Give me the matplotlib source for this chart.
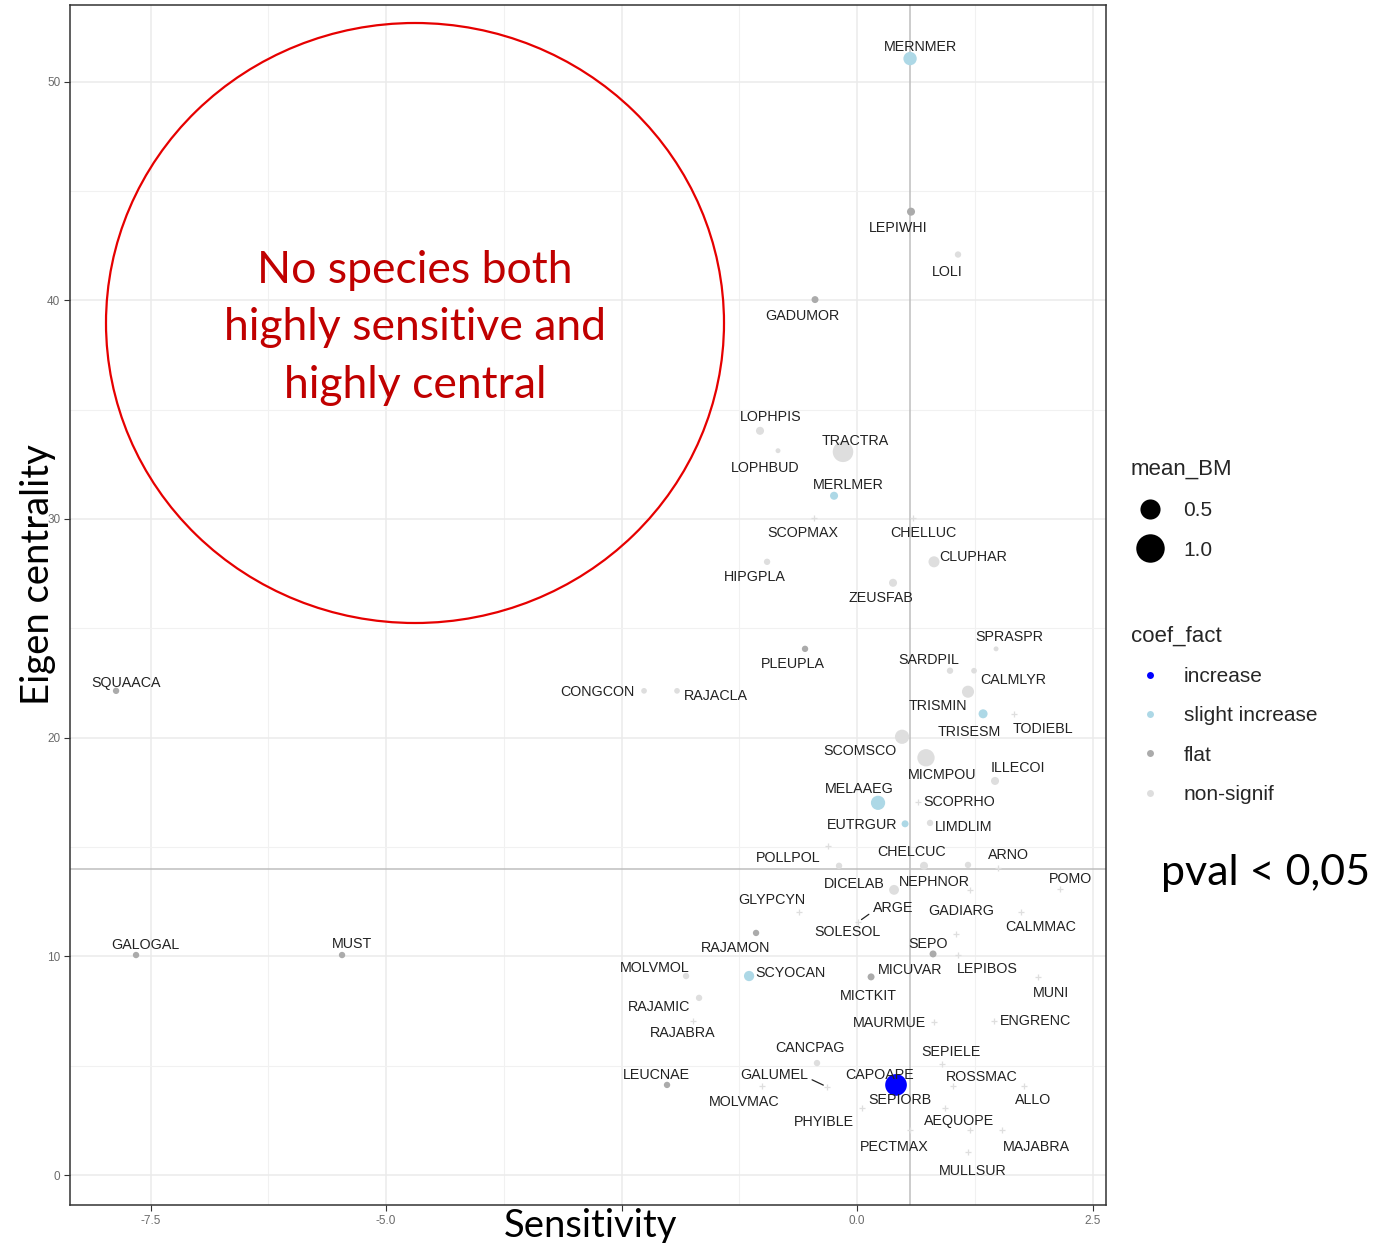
import numpy as np
import pandas as pd
import matplotlib
matplotlib.use('Agg')
import matplotlib.pyplot as plt
from matplotlib.lines import Line2D
from matplotlib.patches import Ellipse
from matplotlib.ticker import MultipleLocator


species = [
    'MERNMER', 'LEPIWHI', 'LOLI', 'GADUMOR', 'LOPHPIS', 'LOPHBUD', 'TRACTRA',
    'MERLMER', 'SCOPMAX', 'CHELLUC', 'HIPGPLA', 'CLUPHAR', 'ZEUSFAB', 'SPRASPR',
    'PLEUPLA', 'SARDPIL', 'CALMLYR', 'TRISMIN', 'TRISESM', 'TODIEBL', 'SCOMSCO',
    'MICMPOU', 'ILLECOI', 'MELAAEG', 'SCOPRHO', 'EUTRGUR', 'LIMDLIM', 'POLLPOL',
    'CHELCUC', 'ARNO', 'DICELAB', 'NEPHNOR', 'POMO', 'GLYPCYN', 'ARGE', 'GADIARG',
    'CALMMAC', 'SOLESOL', 'SEPO', 'RAJAMON', 'MOLVMOL', 'SCYOCAN', 'MICUVAR',
    'LEPIBOS', 'MICTKIT', 'MUNI', 'RAJAMIC', 'RAJABRA', 'MAURMUE', 'ENGRENC',
    'CANCPAG', 'SEPIELE', 'LEUCNAE', 'GALUMEL', 'CAPOAPE', 'ROSSMAC', 'MOLVMAC',
    'SEPIORB', 'ALLO', 'PHYIBLE', 'AEQUOPE', 'PECTMAX', 'MAJABRA', 'MULLSUR',
    'SQUAACA', 'CONGCON', 'RAJACLA', 'GALOGAL', 'MUST',
]

sensitivity = [
    0.563, 0.573, 1.072, -0.446, -1.030, -0.839, -0.149,
    -0.244, -0.456, 0.594, -0.955, 0.817, 0.382, 1.476,
    -0.552, 0.987, 1.242, 1.178, 1.338, 1.667, 0.478,
    0.732, 1.465, 0.223, 0.648, 0.510, 0.775, -0.308,
    0.711, 1.497, -0.191, 1.178, 2.155, -0.616, 0.011, 1.200,
    1.741, 0.393, 0.807, -1.072, -1.815, -1.146, 0.149,
    1.072, 1.051, 1.921, -1.677, -1.741, 0.817, 1.454,
    -0.425, 0.902, -2.017, -0.318, 0.414, 1.019, -1.008,
    1.200, 1.773, 0.053, 0.934, 0.563, 1.539, 1.178,
    -7.866, -2.261, -1.911, -7.654, -5.467,
]

eigen_centrality = [
    51.05, 44.05, 42.09, 40.03, 34.03, 33.12, 33.07,
    31.06, 30.05, 30.05, 28.04, 28.04, 27.08, 24.06,
    24.06, 23.06, 23.06, 22.10, 21.09, 21.09, 20.04,
    19.08, 18.02, 17.02, 17.06, 16.06, 16.10, 15.05,
    14.14, 14.04, 14.14, 14.18, 13.08, 12.03, 11.57, 13.04,
    12.03, 13.04, 10.11, 11.07, 9.10, 9.10, 9.06,
    10.06, 11.02, 9.06, 8.10, 7.04, 7.00, 7.04,
    5.12, 5.08, 4.12, 4.03, 4.12, 4.07, 4.07,
    2.06, 4.07, 3.06, 3.06, 2.06, 2.06, 1.05,
    22.14, 22.14, 22.14, 10.06, 10.06,
]

mean_bm = [
    0.22, 0.08, 0.05, 0.06, 0.08, 0.03, 0.52,
    0.08, 0.01, 0.01, 0.05, 0.15, 0.08, 0.03,
    0.05, 0.05, 0.04, 0.18, 0.10, 0.01, 0.25,
    0.37, 0.08, 0.25, 0.01, 0.06, 0.05, 0.01,
    0.08, 0.01, 0.05, 0.05, 0.01, 0.01, 0.01, 0.01,
    0.01, 0.12, 0.06, 0.05, 0.05, 0.13, 0.06,
    0.01, 0.01, 0.01, 0.05, 0.01, 0.01, 0.01,
    0.05, 0.01, 0.05, 0.01, 0.58, 0.01, 0.01,
    0.01, 0.01, 0.01, 0.01, 0.01, 0.01, 0.01,
    0.05, 0.04, 0.04, 0.05, 0.05,
]

slight = {'MERNMER', 'MERLMER', 'TRISESM', 'MELAAEG', 'EUTRGUR', 'SCYOCAN'}
increase = {'CAPOAPE'}
flat = {'LEPIWHI', 'GADUMOR', 'PLEUPLA', 'SQUAACA', 'GALOGAL', 'MUST',
        'RAJAMON', 'SEPO', 'MICUVAR', 'LEUCNAE'}

COEF_LEVELS = ['increase', 'slight increase', 'flat', 'non-signif']
COEF_COLORS = {
    'increase': '#0000FF',
    'slight increase': '#ADD8E6',
    'flat': '#ABABAB',
    'non-signif': '#DEDEDE',
}

x_ticks = [-7.5, -5.0, -2.5, 0.0, 2.5]
x_tick_labels = ['-7.5', '-5.0', '', '0.0', '2.5']

# repelled label positions (data units)
LABEL_POS = {
    'MERNMER': (0.669, 51.60), 'LEPIWHI': (0.435, 43.32), 'LOLI': (0.955, 41.31),
    'GADUMOR': (-0.584, 39.30), 'LOPHPIS': (-0.913, 34.67), 'LOPHBUD': (-0.977, 32.34),
    'TRACTRA': (-0.021, 33.58), 'MERLMER': (-0.096, 31.56), 'SCOPMAX': (-0.573, 29.37),
    'CHELLUC': (0.701, 29.37), 'HIPGPLA': (-1.083, 27.36), 'CLUPHAR': (1.231, 28.27),
    'ZEUSFAB': (0.255, 26.40), 'SPRASPR': (1.614, 24.61), 'PLEUPLA': (-0.679, 23.38),
    'SARDPIL': (0.764, 23.56), 'CALMLYR': (1.656, 22.64), 'TRISMIN': (0.860, 21.45),
    'TRISESM': (1.189, 20.27), 'TODIEBL': (1.975, 20.40), 'SCOMSCO': (0.032, 19.40),
    'MICMPOU': (0.902, 18.30), 'ILLECOI': (1.709, 18.62), 'MELAAEG': (0.021, 17.66),
    'SCOPRHO': (1.083, 17.06), 'EUTRGUR': (0.053, 16.01), 'LIMDLIM': (1.136, 15.92),
    'POLLPOL': (-0.732, 14.50), 'CHELCUC': (0.584, 14.78), 'ARNO': (1.603, 14.64),
    'DICELAB': (-0.032, 13.31), 'NEPHNOR': (0.817, 13.40), 'POMO': (2.261, 13.54),
    'GLYPCYN': (-0.902, 12.58), 'ARGE': (0.382, 12.21), 'GADIARG': (1.104, 12.08),
    'CALMMAC': (1.953, 11.35), 'SOLESOL': (-0.106, 11.12), 'SEPO': (0.754, 10.57),
    'RAJAMON': (-1.285, 10.38), 'MOLVMOL': (-2.144, 9.47), 'SCYOCAN': (-0.711, 9.24),
    'MICUVAR': (0.563, 9.38), 'LEPIBOS': (1.380, 9.42), 'MICTKIT': (0.117, 8.19),
    'MUNI': (2.059, 8.33), 'RAJAMIC': (-2.102, 7.69), 'RAJABRA': (-1.847, 6.50),
    'MAURMUE': (0.340, 6.95), 'ENGRENC': (1.890, 7.04), 'CANCPAG': (-0.499, 5.81),
    'SEPIELE': (0.998, 5.63), 'LEUCNAE': (-2.134, 4.57), 'GALUMEL': (-0.881, 4.57),
    'CAPOAPE': (0.244, 4.57), 'ROSSMAC': (1.327, 4.48), 'MOLVMAC': (-1.200, 3.34),
    'SEPIORB': (0.456, 3.43), 'ALLO': (1.868, 3.43), 'PHYIBLE': (-0.350, 2.42),
    'AEQUOPE': (1.083, 2.47), 'PECTMAX': (0.393, 1.28), 'MAJABRA': (1.900, 1.28),
    'MULLSUR': (1.231, 0.18), 'SQUAACA': (-7.760, 22.51), 'CONGCON': (-2.760, 22.10),
    'RAJACLA': (-1.497, 21.91), 'GALOGAL': (-7.558, 10.52), 'MUST': (-5.361, 10.57),
}
# labels pushed far enough to get a segment: (relpos on the text box)
SEGMENTS = {'ARGE': (0.0, 0.25), 'GALUMEL': (1.0, 0.3)}

SENS_CUT = 0.56
CENT_CUT = 14.0
SIZE_K = 420.0  # scatter area (pt^2) per unit of mean_BM

FIG_W, FIG_H = 1375, 1243
BODY_FONT = 'Lato'
LABEL_FONT = 'Liberation Sans'


def build_frame():
    df = pd.DataFrame({
        'species': species,
        'sens': sensitivity,
        'cent': eigen_centrality,
        'mean_BM': mean_bm,
    })
    df['coef_fact'] = 'non-signif'
    df.loc[df['species'].isin(flat), 'coef_fact'] = 'flat'
    df.loc[df['species'].isin(slight), 'coef_fact'] = 'slight increase'
    df.loc[df['species'].isin(increase), 'coef_fact'] = 'increase'
    return df


def fx(px):
    return px / FIG_W


def fy(py):
    return 1 - py / FIG_H


def draw_panel(ax, df):
    ax.set_xlim(-8.355, 2.643)
    ax.set_ylim(-1.37, 53.5)
    ax.xaxis.set_minor_locator(MultipleLocator(1.25))
    ax.yaxis.set_major_locator(MultipleLocator(10))
    ax.yaxis.set_minor_locator(MultipleLocator(5))
    ax.set_xticks(x_ticks)
    ax.set_xticklabels(x_tick_labels)
    ax.grid(which='major', color='#EBEBEB', lw=1.1, zorder=0)
    ax.grid(which='minor', color='#F1F1F1', lw=0.8, zorder=0)
    ax.set_axisbelow(True)
    ax.tick_params(which='major', length=4, width=0.8, color='#333333',
                   labelsize=8.5, labelcolor='#6b6b6b', pad=3)
    ax.tick_params(which='minor', length=0)
    for t in ax.get_xticklabels() + ax.get_yticklabels():
        t.set_family(LABEL_FONT)
    for s in ax.spines.values():
        s.set_color('#333333')
        s.set_linewidth(1.1)

    ax.axvline(SENS_CUT, color='#BEBEBE', lw=1.1, zorder=1)
    ax.axhline(CENT_CUT, color='#BEBEBE', lw=1.1, zorder=1)

    # bigger animals first so small ones stay visible on top
    df = df.sort_values('mean_BM', ascending=False)
    for level in COEF_LEVELS[::-1]:
        sub = df[df['coef_fact'] == level]
        big = sub[sub['mean_BM'] > 0.015]
        tiny = sub[sub['mean_BM'] <= 0.015]
        ax.scatter(big['sens'], big['cent'], s=big['mean_BM'] * SIZE_K,
                   c=COEF_COLORS[level], edgecolors='none', zorder=3)
        ax.scatter(tiny['sens'], tiny['cent'], s=14, marker='+',
                   c=COEF_COLORS[level], linewidths=0.9, zorder=3)

    for _, r in df.iterrows():
        lx, ly = LABEL_POS[r['species']]
        if r['species'] in SEGMENTS:
            ax.annotate(r['species'], xy=(r['sens'], r['cent']), xytext=(lx, ly),
                        ha='center', va='center', fontsize=10.3, family=LABEL_FONT,
                        color='#222222', zorder=4,
                        arrowprops=dict(arrowstyle='-', color='#222222', lw=0.9,
                                        relpos=SEGMENTS[r['species']],
                                        shrinkA=1, shrinkB=3))
        else:
            ax.text(lx, ly, r['species'], ha='center', va='center', fontsize=10.3,
                    family=LABEL_FONT, color='#222222', zorder=4)


def make_legend(ax, handles, labels, title, top_px, spacing):
    leg = ax.legend(handles, labels, title=title,
                    loc='upper left', bbox_to_anchor=(fx(1131), fy(top_px)),
                    bbox_transform=ax.figure.transFigure, frameon=False,
                    alignment='left', prop={'family': LABEL_FONT, 'size': 15},
                    title_fontproperties={'family': LABEL_FONT, 'size': 16},
                    handlelength=1.8, handletextpad=0.72, labelspacing=spacing,
                    borderpad=0, borderaxespad=0)
    for t in leg.get_texts():
        t.set_color('#262626')
    leg.get_title().set_color('#262626')
    return leg


def draw_legends(ax):
    size_handles = [
        Line2D([], [], ls='', marker='o', color='black', markeredgewidth=0,
               markersize=np.sqrt(v * SIZE_K))
        for v in (0.5, 1.0)
    ]
    leg1 = make_legend(ax, size_handles, ['0.5', '1.0'], 'mean_BM', 459, 1.0)
    ax.add_artist(leg1)

    coef_handles = [
        Line2D([], [], ls='', marker='o', color=COEF_COLORS[k], markeredgewidth=0,
               markersize=5)
        for k in COEF_LEVELS
    ]
    make_legend(ax, coef_handles, COEF_LEVELS, 'coef_fact', 626, 0.97)


def draw_overlay(fig):
    ell = Ellipse((fx(415), fy(323)), 618 / FIG_W, 600 / FIG_H,
                  transform=fig.transFigure, fill=False, edgecolor='#E60000',
                  lw=1.6, zorder=10)
    fig.add_artist(ell)
    fig.text(fx(415), fy(327.5), 'No species both\nhighly sensitive and\nhighly central',
             ha='center', va='center', fontsize=32, family=BODY_FONT,
             color='#C00000', linespacing=1.5)

    fig.text(fx(38), fy(575), 'Eigen centrality', rotation=90, ha='center',
             va='center', fontsize=27.5, family=BODY_FONT, color='black')
    fig.text(fx(591), fy(1226), 'Sensitivity', ha='center', va='center',
             fontsize=27.5, family=BODY_FONT, color='black')
    fig.text(fx(1266), fy(873), 'pval < 0,05', ha='center', va='center',
             fontsize=31, family=BODY_FONT, color='black')


def main():
    df = build_frame()
    fig = plt.figure(figsize=(FIG_W / 100, FIG_H / 100), dpi=100)
    ax = fig.add_axes([fx(70), fy(1205), fx(1106) - fx(70), fy(5) - fy(1205)])
    draw_panel(ax, df)
    draw_legends(ax)
    draw_overlay(fig)
    fig.savefig('out.png', dpi=100, facecolor='white')
    plt.close(fig)


if __name__ == '__main__':
    main()
